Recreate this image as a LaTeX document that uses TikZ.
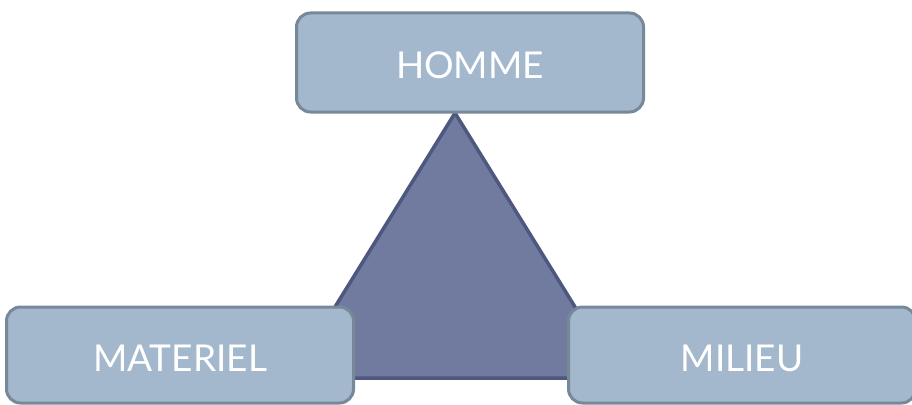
\documentclass[tikz,border=0pt]{standalone}
\usepackage{fontspec}
\setmainfont{Lato}
\definecolor{boxfill}{HTML}{A3B8CD}
\definecolor{boxline}{HTML}{778899}
\definecolor{trifill}{HTML}{717B9F}
\definecolor{triline}{HTML}{4E577E}
\tikzset{
  termbox/.style={draw=boxline, fill=boxfill, line width=3pt, rounded corners=14pt,
    minimum width=347pt, text=white, inner sep=0pt, text height=32pt, text depth=0pt,
    font=\fontsize{37}{40}\selectfont},
}
\begin{document}
\begin{tikzpicture}[x=1pt,y=-1pt]
\useasboundingbox (0,0) rectangle (912,404);
\fill[white] (0,0) rectangle (912,404);
\coordinate (apex) at (455,113);
\coordinate (bl) at (291,378);
\coordinate (br) at (619,378);
\draw[triline, fill=trifill, line width=3.5pt, line join=miter] (apex) -- (bl) -- (br) -- cycle;
\node[termbox, minimum height=99pt] (homme) at (470,62.5) {HOMME};
\node[termbox, minimum height=96pt] (materiel) at (180,355) {MATERIEL};
\node[termbox, minimum height=96pt] (milieu) at (742,355) {MILIEU};
\end{tikzpicture}
\end{document}
